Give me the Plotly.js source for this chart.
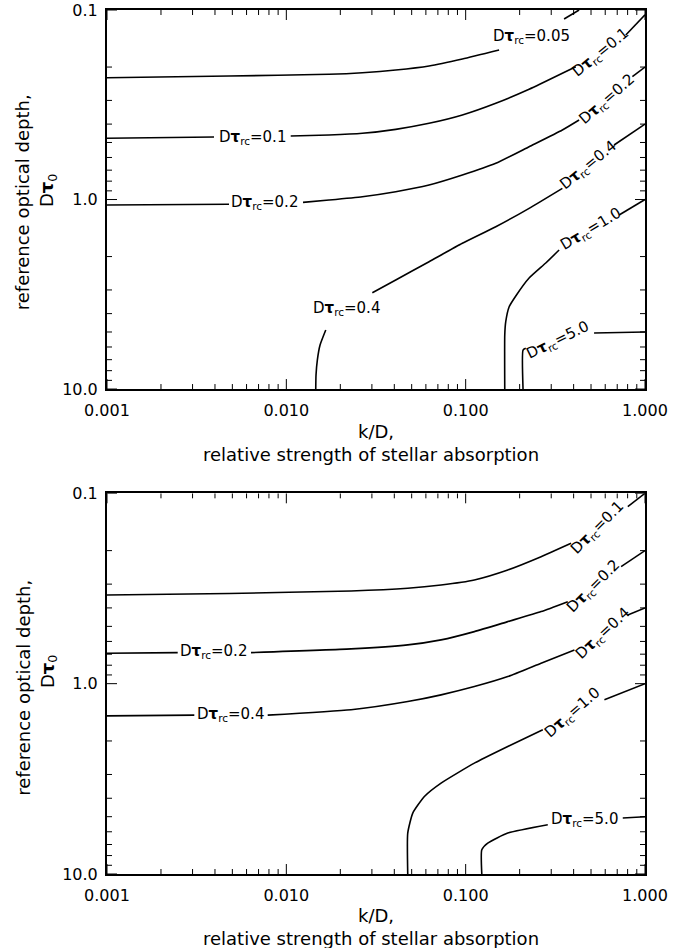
<!DOCTYPE html>
<html>
<head>
<meta charset="utf-8">
<script src="https://cdn.plot.ly/plotly-3.0.1.min.js"></script>
<style>html,body{margin:0;padding:0;background:#fff;}#chart{width:694px;height:948px;}</style>
</head>
<body>
<div id="chart"></div>
<script>
// ---- tick labels ----
const xTickVals = [0.001, 0.01, 0.1, 1];
const xTickText = ["0.001", "0.010", "0.100", "1.000"];
const yTickVals = [0.1, 1, 10];
const yTickText = ["0.1", "1.0", "10.0"];

// ---- contour levels (D tau_rc) ----
const topLevels = ["0.05", "0.1", "0.2", "0.4", "1.0", "5.0"];
const bottomLevels = ["0.1", "0.2", "0.4", "1.0", "5.0"];

// ---- top panel contours (x = k/D, y = D tau_0; null = label gap) ----
const topX005 = [0.001, 0.00479, 0.0173, 0.02654, 0.04074, 0.06249, 0.09585, 0.1536, null, 0.3538, 0.429];
const topY005 = [0.2277, 0.2230, 0.2184, 0.2142, 0.2073, 0.1974, 0.1814, 0.1627, null, 0.1115, 0.1];
const topX01 = [0.001, 0.00395, null, 0.01058, 0.0173, 0.02654, 0.04074, 0.06249, 0.09585, 0.1472, 0.2258, 0.3461, 0.4112, null, 0.7814, 1.0];
const topY01 = [0.4753, 0.4679, null, 0.4622, 0.4566, 0.4473, 0.4263, 0.3963, 0.3581, 0.3106, 0.2621, 0.2158, 0.1991, null, 0.1355, 0.106];
const topX02 = [0.001, 0.00479, null, 0.01239, 0.0173, 0.02654, 0.04074, 0.06249, 0.09585, 0.1472, 0.2258, 0.3461, 0.429, null, 0.8503, 1.0];
const topY02 = [1.069, 1.060, null, 1.035, 1.006, 0.9665, 0.9095, 0.8385, 0.7424, 0.6442, 0.5266, 0.4297, 0.3806, null, 0.2249, 0.2];
const topX04 = [0.01459, 0.01464, 0.01489, 0.01542, 0.01659, null, 0.03017, 0.04074, 0.06249, 0.09585, 0.1472, 0.2258, 0.3461, null, 0.6724, 1.0];
const topY04 = [10, 8.437, 7.031, 5.860, 4.884, null, 3.103, 2.659, 2.129, 1.702, 1.392, 1.113, 0.8727, null, 0.5158, 0.4];
const topX10 = [0.1652, 0.1652, 0.1673, 0.1746, 0.1903, 0.2258, 0.2797, 0.3319, null, 0.7172, 1.0];
const topY10 = [10, 5.188, 4.415, 3.692, 3.230, 2.596, 2.163, 1.847, null, 1.207, 1.0];
const topX50 = [0.2089, 0.2089, 0.2163, null, 0.5201, 1.0];
const topY50 = [10, 6.226, 6.099, null, 5.06, 5.0];

// ---- bottom panel contours ----
const botX01 = [0.001, 0.00479, 0.02296, 0.04753, 0.07291, 0.1118, 0.1717, 0.2633, 0.3871, null, 0.8016, 1.0];
const botY01 = [0.3419, 0.3357, 0.3258, 0.3152, 0.3029, 0.2851, 0.2527, 0.2152, 0.1830, null, 0.1176, 0.1];
const botX02 = [0.001, 0.002479, null, 0.006355, 0.02296, 0.04753, 0.07291, 0.1118, 0.1717, 0.2633, 0.3710, null, 0.7358, 1.0];
const botY02 = [0.6916, 0.6866, null, 0.6866, 0.6566, 0.6256, 0.5889, 0.5328, 0.4721, 0.4182, 0.3707, null, 0.2428, 0.2];
const botX04 = [0.001, 0.003068, null, 0.007872, 0.02296, 0.04753, 0.07291, 0.1118, 0.1717, 0.2633, 0.4041, null, 0.8016, 1.0];
const botY04 = [1.476, 1.464, null, 1.464, 1.372, 1.242, 1.145, 1.036, 0.9178, 0.7806, 0.6647, null, 0.4352, 0.4];
const botX10 = [0.04753, 0.04753, 0.0507, 0.05886, 0.07291, 0.1118, 0.1717, 0.2692, null, 0.5937, 1.0];
const botY10 = [10, 6.093, 4.784, 3.914, 3.329, 2.615, 2.139, 1.748, null, 1.216, 1.0];
const botX50 = [0.123, 0.123, 0.1328, 0.1717, 0.287, null, 0.7518, 1.0];
const botY50 = [10, 7.457, 6.876, 6.093, 5.51, null, 5.082, 5.0];

// ---- build ----
const FONT = "DejaVu Sans";
function line(x, y, ax) {
  return {type: "scatter", mode: "lines", x: x, y: y, xaxis: ax[0], yaxis: ax[1],
    connectgaps: false, hoverinfo: "skip",
    line: {color: "black", width: 1.6, shape: "spline", smoothing: 0.5}};
}
const T = ["x", "y"], B = ["x2", "y2"];

// minor tick positions (axis decoration, 2..9 in each decade)
function minorTicks(e0, e1) {
  const v = [];
  for (let e = e0; e < e1; e++) for (let m = 2; m <= 9; m++) v.push(m * Math.pow(10, e));
  return v;
}
const minorX = minorTicks(-3, 0);
const minorY = minorTicks(-1, 1);

// inside tick marks on all four sides (IDL style), drawn as one line trace per panel.
// Lengths are in decades: px length / px per decade.
function tickTrace(ax, pxPerDecX, pxPerDecY) {
  const xs = [], ys = [];
  [[xTickVals, 10], [minorX, 5]].forEach(function (p) {
    const d = p[1] / pxPerDecY;
    p[0].forEach(function (v) {
      xs.push(v, v, null, v, v, null);
      ys.push(10, Math.pow(10, 1 - d), null, 0.1, Math.pow(10, -1 + d), null);
    });
  });
  [[yTickVals, 10], [minorY, 5]].forEach(function (p) {
    const d = p[1] / pxPerDecX;
    p[0].forEach(function (v) {
      xs.push(0.001, Math.pow(10, -3 + d), null, 1, Math.pow(10, -d), null);
      ys.push(v, v, null, v, v, null);
    });
  });
  return {type: "scatter", mode: "lines", x: xs, y: ys, xaxis: ax[0], yaxis: ax[1],
    connectgaps: false, hoverinfo: "skip", line: {color: "black", width: 1, shape: "linear"}};
}

const data = [
  line(topX005, topY005, T), line(topX01, topY01, T), line(topX02, topY02, T),
  line(topX04, topY04, T), line(topX10, topY10, T), line(topX50, topY50, T),
  line(botX01, botY01, B), line(botX02, botY02, B), line(botX04, botY04, B),
  line(botX10, botY10, B), line(botX50, botY50, B),
  tickTrace(T, 179.3, 189.5), tickTrace(B, 179.3, 190.5)
];

function lab(level, x, y, ang, ax) {
  return {text: "D<b>τ</b><sub>rc</sub>=" + level, x: Math.log10(x), y: Math.log10(y),
    xref: ax[0], yref: ax[1], showarrow: false, textangle: ang,
    xanchor: "center", yanchor: "middle", font: {family: FONT, size: 15, color: "black"}};
}
const annotations = [
  lab(topLevels[0], 0.2316, 0.1383, 0, T),
  lab(topLevels[1], 0.006437, 0.4679, 0, T),
  lab(topLevels[2], 0.007587, 1.043, 0, T),
  lab(topLevels[3], 0.02166, 3.751, 0, T),
  lab(topLevels[1], 0.5669, 0.1676, -39, T),
  lab(topLevels[2], 0.6108, 0.2949, -41, T),
  lab(topLevels[3], 0.4817, 0.6654, -39, T),
  lab(topLevels[4], 0.4942, 1.431, -31, T),
  lab(topLevels[5], 0.3235, 5.512, -26, T),
  lab(bottomLevels[1], 0.003926, 0.6809, 0, B),
  lab(bottomLevels[2], 0.004853, 1.458, 0, B),
  lab(bottomLevels[0], 0.5452, 0.1521, -45, B),
  lab(bottomLevels[1], 0.5155, 0.3092, -45, B),
  lab(bottomLevels[2], 0.5815, 0.5432, -43, B),
  lab(bottomLevels[3], 0.3957, 1.423, -41, B),
  lab(bottomLevels[4], 0.4575, 5.188, 0, B)
];
function title(text, x, y, ang, yanchor) {
  return {text: text, x: x, y: y, xref: "paper", yref: "paper", showarrow: false,
    textangle: ang, xanchor: "center", yanchor: yanchor || "middle", borderpad: 0,
    font: {family: FONT, size: 18, color: "black"}};
}
annotations.push(
  title("reference optical depth,", -0.1556, 0.7778, -90),
  title("D<b>τ</b><sub>0</sub>", -0.1087, 0.7911, -90),
  title("reference optical depth,", -0.1556, 0.2159, -90),
  title("D<b>τ</b><sub>0</sub>", -0.1091, 0.2341, -90),
  title("k/D,", 0.4991, 0.4994, 0, "bottom"),
  title("relative strength of stellar absorption", 0.4907, 0.4994, 0, "top"),
  title("k/D,", 0.4991, -0.0613, 0, "bottom"),
  title("relative strength of stellar absorption", 0.4907, -0.0613, 0, "top")
);

function axisBase(tv, tt) {
  return {type: "log", tickmode: "array", tickvals: tv, ticktext: tt, ticks: "",
    showline: true, linewidth: 2, linecolor: "black", mirror: true,
    showgrid: false, zeroline: false,
    tickfont: {family: FONT, size: 16, color: "black"}};
}
function xAxis(anchor) {
  return Object.assign(axisBase(xTickVals, xTickText),
    {range: [-3, 0], anchor: anchor, domain: [0, 1], ticklabelstandoff: 6});
}
function yAxis(anchor, dom) {
  return Object.assign(axisBase(yTickVals, yTickText),
    {range: [1, -1], anchor: anchor, domain: dom, ticklabelstandoff: 4});
}
const layout = {
  width: 694, height: 948,
  margin: {l: 107, r: 49, t: 10, b: 74},
  paper_bgcolor: "white", plot_bgcolor: "white", showlegend: false,
  font: {family: FONT, color: "black"},
  xaxis: xAxis("y"), yaxis: yAxis("x", [0.5613, 1]),
  xaxis2: xAxis("y2"), yaxis2: yAxis("x2", [0, 0.4406]),
  annotations: annotations
};
Plotly.newPlot("chart", data, layout, {staticPlot: true, displayModeBar: false});
</script>
</body>
</html>
